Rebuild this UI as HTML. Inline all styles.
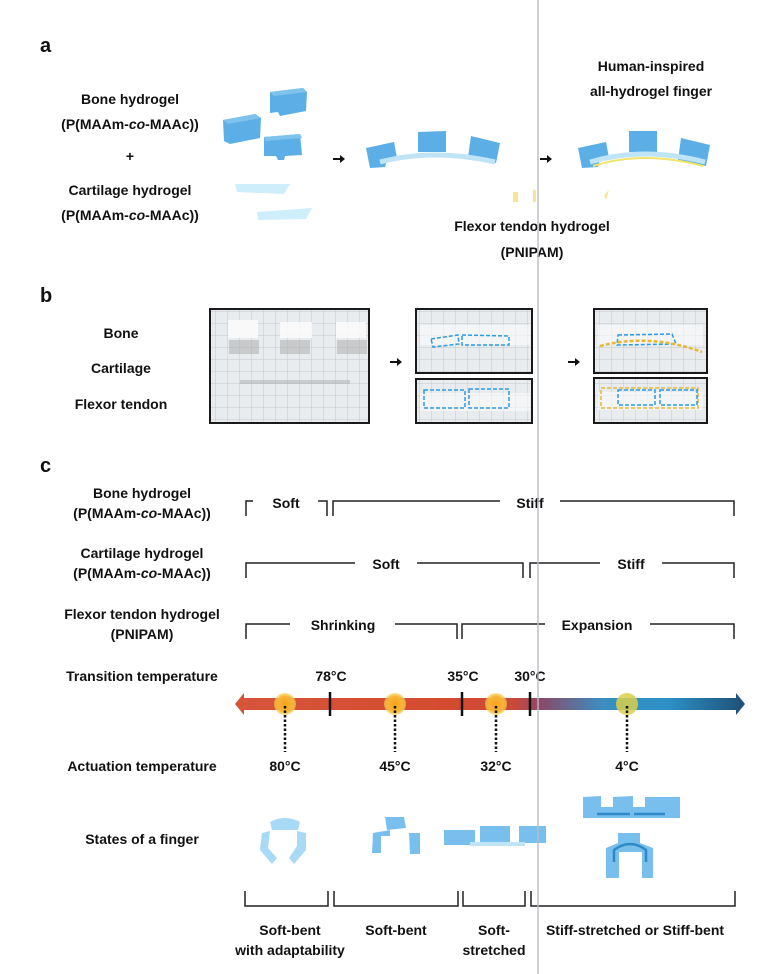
<!DOCTYPE html>
<html><head><meta charset="utf-8"><style>
html,body{margin:0;padding:0;background:#fff;}
svg{display:block;font-family:"Liberation Sans",Arial,sans-serif;font-weight:bold;}
</style></head><body>
<svg width="775" height="974" viewBox="0 0 775 974" xmlns="http://www.w3.org/2000/svg">
<defs>
<linearGradient id="bar" x1="235" y1="0" x2="745" y2="0" gradientUnits="userSpaceOnUse">
<stop offset="0" stop-color="#d6553a"/><stop offset="0.45" stop-color="#d44a30"/>
<stop offset="0.55" stop-color="#c84a3a"/><stop offset="0.6" stop-color="#8a4a6a"/>
<stop offset="0.72" stop-color="#3a8ec0"/><stop offset="0.85" stop-color="#2d90c4"/>
<stop offset="1" stop-color="#1f4f78"/></linearGradient>
<radialGradient id="dot"><stop offset="0" stop-color="#f7a21c"/><stop offset="0.7" stop-color="#f8b43a"/><stop offset="1" stop-color="#f6d24a" stop-opacity="0.6"/></radialGradient>
<pattern id="grid" width="12" height="12" patternUnits="userSpaceOnUse"><rect width="12" height="12" fill="#e9ecef"/><path d="M12 0V12M0 12H12" stroke="#c3c7cc" stroke-width="1"/></pattern>
</defs>

<g font-size="20" fill="#111"><text x="40" y="52">a</text><text x="40" y="302">b</text><text x="40" y="472">c</text></g>

<!-- Panel a -->
<g font-size="14" fill="#111" text-anchor="middle">
<text x="130" y="104">Bone hydrogel</text>
<text x="130" y="129">(P(MAAm-<tspan font-style="italic">co</tspan>-MAAc))</text>
<text x="130" y="161">+</text>
<text x="130" y="195">Cartilage hydrogel</text>
<text x="130" y="220">(P(MAAm-<tspan font-style="italic">co</tspan>-MAAc))</text>
<text x="651" y="71">Human-inspired</text>
<text x="651" y="96">all-hydrogel finger</text>
<text x="532" y="231">Flexor tendon hydrogel</text>
<text x="532" y="257">(PNIPAM)</text>
</g>
<g fill="#5caee6">
<path d="M270 92 L303 88 L307 92 L306 111 L280 116 L278 112 L270 113Z"/>
<path d="M223 120 L255 114 L261 118 L260 138 L230 144 L224 141Z"/>
<path d="M264 137 L300 134 L302 155 L285 156 L284 160 L278 160 L276 156 L264 156Z"/>
<path d="M366 148 L394 142 L397 158 L387 160 L385 167 L370 168Z"/>
<path d="M418 132 L446 131 L446 152 L418 152Z"/>
<path d="M471 136 L500 143 L496 163 L468 157Z"/>
<path d="M578 148 L606 142 L609 158 L600 160 L598 167 L582 168Z"/>
<path d="M629 131 L657 131 L657 152 L629 152Z"/>
<path d="M681 138 L710 145 L706 166 L678 160Z"/>
</g>
<g fill="#7fc2ee"><path d="M270 92 L303 88 L307 92 L274 96Z"/><path d="M223 120 L255 114 L261 118 L228 124Z"/><path d="M264 137 L300 134 L302 138 L265 141Z"/></g>
<path d="M380 162 Q433 148 495 162" stroke="#bfe4f6" stroke-width="5" fill="none"/>
<path d="M590 162 Q643 146 705 162" stroke="#bfe4f6" stroke-width="5" fill="none"/>
<path d="M593 166 Q643 150 703 166" stroke="#f2e36a" stroke-width="2" fill="none"/>
<g fill="#cdeefa"><path d="M235 184 L290 184 L284 194 L237 192Z"/><path d="M257 212 L312 208 L306 219 L258 220Z"/></g>
<g fill="#f2e07a" opacity="0.8"><rect x="513" y="192" width="5" height="10"/><rect x="533" y="190" width="3" height="12"/><path d="M604 195 L609 190 L606 200Z"/></g>
<g fill="#111"><path d="M333 158 L340 158 L340 155 L345 159 L340 163 L340 160 L333 160Z"/><path d="M540 158 L547 158 L547 155 L552 159 L547 163 L547 160 L540 160Z"/></g>

<!-- Panel b -->
<g font-size="14" fill="#111" text-anchor="middle">
<text x="121" y="338">Bone</text><text x="121" y="373">Cartilage</text><text x="121" y="409">Flexor tendon</text>
</g>
<g stroke="#1a1a1a" stroke-width="2" fill="url(#grid)">
<rect x="210" y="309" width="159" height="114"/>
<rect x="416" y="309" width="116" height="64"/><rect x="416" y="379" width="116" height="44"/>
<rect x="594" y="309" width="113" height="64"/><rect x="594" y="378" width="113" height="45"/>
</g>
<g fill="#fbfbfb" opacity="0.9">
<rect x="228" y="320" width="30" height="18"/><rect x="280" y="322" width="32" height="16"/><rect x="336" y="322" width="30" height="16"/>
<rect x="420" y="325" width="110" height="20" opacity="0.7"/><rect x="420" y="393" width="110" height="18" opacity="0.7"/>
<rect x="598" y="325" width="105" height="20" opacity="0.7"/><rect x="598" y="392" width="105" height="18" opacity="0.7"/>
</g>
<g fill="#aaa" opacity="0.5"><rect x="229" y="340" width="30" height="14"/><rect x="280" y="340" width="30" height="14"/><rect x="337" y="340" width="30" height="14"/><rect x="240" y="380" width="110" height="4"/></g>
<g fill="none" stroke-dasharray="4 2" stroke-width="1.5">
<path d="M431 339 L458 335 L459 344 L433 347Z" stroke="#2f9ae0"/><path d="M462 335 L509 336 L509 345 L462 345Z" stroke="#2f9ae0"/>
<rect x="424" y="390" width="41" height="18" stroke="#2f9ae0"/><rect x="469" y="389" width="40" height="19" stroke="#2f9ae0"/>
<path d="M618 335 L672 334 L676 344 L617 345Z" stroke="#2f9ae0"/>
<path d="M600 346 Q650 333 702 352" stroke="#e5b83a" stroke-width="2.5"/>
<rect x="601" y="388" width="97" height="20" stroke="#e5b83a"/>
<rect x="618" y="390" width="37" height="15" stroke="#2f9ae0"/><rect x="660" y="390" width="37" height="15" stroke="#2f9ae0"/>
</g>
<g fill="#111"><path d="M390 361 L397 361 L397 358 L402 362 L397 366 L397 363 L390 363Z"/><path d="M568 361 L575 361 L575 358 L580 362 L575 366 L575 363 L568 363Z"/></g>

<!-- Panel c labels -->
<g font-size="14" fill="#111" text-anchor="middle">
<text x="142" y="498">Bone hydrogel</text><text x="142" y="518">(P(MAAm-<tspan font-style="italic">co</tspan>-MAAc))</text>
<text x="142" y="558">Cartilage hydrogel</text><text x="142" y="578">(P(MAAm-<tspan font-style="italic">co</tspan>-MAAc))</text>
<text x="142" y="619">Flexor tendon hydrogel</text><text x="142" y="639">(PNIPAM)</text>
<text x="142" y="681">Transition temperature</text>
<text x="142" y="771">Actuation temperature</text>
<text x="142" y="844">States of a finger</text>
</g>
<g stroke="#222" stroke-width="1.5" fill="none">
<path d="M246 516V501H253M318 501H327V516"/><path d="M333 516V501H500M560 501H734V516"/>
<path d="M246 578V563H355M417 563H523V578"/><path d="M530 578V563H600M662 563H734V578"/>
<path d="M246 639V624H290M395 624H457V639"/><path d="M462 639V624H545M650 624H734V639"/>
</g>
<g font-size="14" fill="#111" text-anchor="middle">
<text x="286" y="508">Soft</text><text x="530" y="508">Stiff</text>
<text x="386" y="569">Soft</text><text x="631" y="569">Stiff</text>
<text x="343" y="630">Shrinking</text><text x="597" y="630">Expansion</text>
<text x="331" y="681">78°C</text><text x="463" y="681">35°C</text><text x="530" y="681">30°C</text>
<text x="285" y="771">80°C</text><text x="395" y="771">45°C</text><text x="496" y="771">32°C</text><text x="627" y="771">4°C</text>
</g>
<!-- bar -->
<path d="M244 698H736V693L745 704L736 715V710H244V715L235 704L244 693Z" fill="url(#bar)"/>
<g fill="url(#dot)"><circle cx="285" cy="704" r="11"/><circle cx="395" cy="704" r="11"/><circle cx="496" cy="704" r="11"/></g>
<circle cx="627" cy="704" r="11" fill="#d8d04a" opacity="0.85"/>
<g stroke="#111" stroke-width="2.5"><path d="M330 692V716M462 692V716M530 692V716"/></g>
<g stroke="#111" stroke-width="2.5" stroke-dasharray="2.5 2"><path d="M285 706V752M395 706V752M496 706V752M627 706V752"/></g>

<!-- finger states -->
<g fill="#a8daf6">
<path d="M270 822 Q285 814 300 822 L298 830 L272 830Z"/>
<path d="M262 833 L270 831 L268 848 L277 858 L272 864 L260 850Z"/>
<path d="M297 831 L306 833 L306 850 L294 864 L289 858 L297 846Z"/>
</g>
<g fill="#79bfee">
<path d="M385 817 L404 817 L406 828 L387 830Z"/>
<path d="M373 833 L390 830 L390 836 L381 836 L381 853 L372 853Z"/>
<path d="M409 833 L420 833 L420 854 L410 854Z"/>
<path d="M444 830 L475 830 L475 845 L444 845Z"/><path d="M480 826 L510 826 L510 842 L480 842Z"/><path d="M519 826 L546 826 L546 843 L519 843Z"/>
<path d="M470 842 L525 842 L525 846 L470 846Z" fill="#bfe4f6"/>
<path d="M583 797 L601 796 L601 807 L613 807 L613 797 L633 796 L633 807 L645 807 L645 797 L680 797 L680 818 L583 818Z"/>
<path d="M618 833 L640 833 L640 843 L653 848 L653 878 L642 878 L642 852 L619 852 L619 878 L606 878 L606 848 L618 843Z"/>
</g>
<g stroke="#2c8ac8" stroke-width="2.5" fill="none"><path d="M597 814H630M634 814H665"/><path d="M614 862V850Q630 838 646 850V862"/></g>

<!-- bottom brackets -->
<g stroke="#222" stroke-width="1.5" fill="none">
<path d="M245 891V906H328V891"/><path d="M334 891V906H458V891"/><path d="M463 891V906H525V891"/><path d="M531 891V906H735V891"/>
</g>
<g font-size="14" fill="#111" text-anchor="middle">
<text x="290" y="935">Soft-bent</text><text x="290" y="955">with adaptability</text>
<text x="396" y="935">Soft-bent</text>
<text x="494" y="935">Soft-</text><text x="494" y="955">stretched</text>
<text x="635" y="935">Stiff-stretched or Stiff-bent</text>
</g>
<!-- vertical artifact line -->
<rect x="537" y="0" width="2" height="974" fill="#b8bcc4" opacity="0.7"/>
</svg>
</body></html>
